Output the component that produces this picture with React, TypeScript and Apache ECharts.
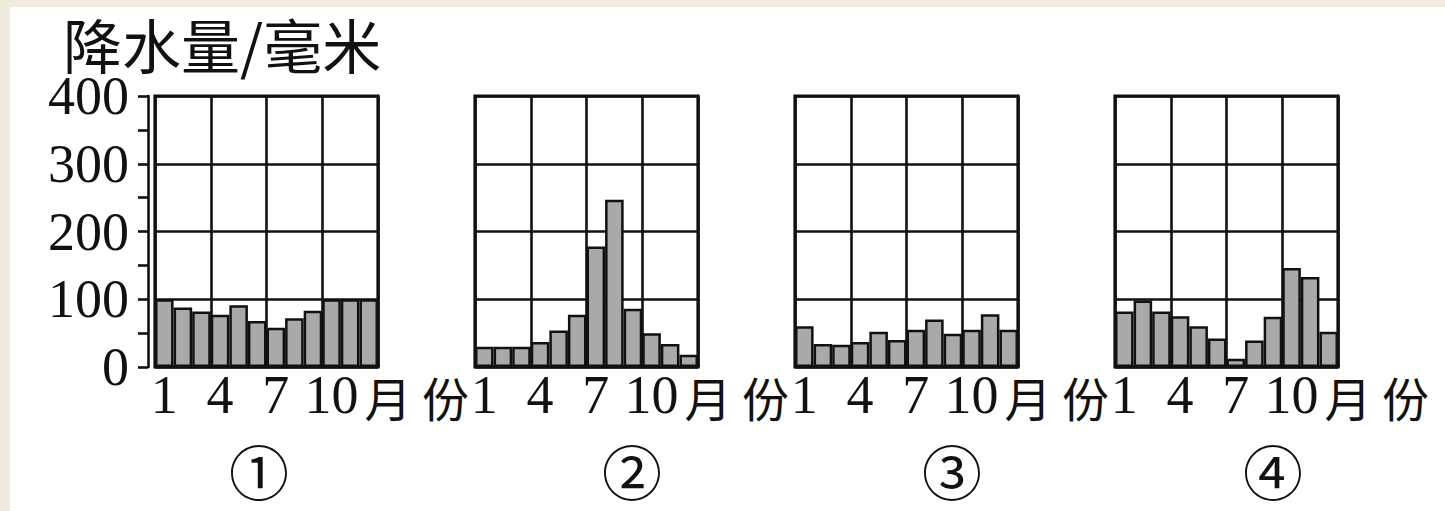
import React, { useEffect, useRef } from "react";
import * as echarts from "echarts";

// ---- data ----
const MONTHS = ["1", "2", "3", "4", "5", "6", "7", "8", "9", "10", "11", "12"];
const PANEL_LABELS = ["①", "②", "③", "④"];
const RAIN_1 = [100, 88, 82, 77, 91, 68, 58, 72, 83, 100, 100, 100];
const RAIN_2 = [30, 30, 30, 37, 54, 77, 178, 247, 86, 50, 34, 18];
const RAIN_3 = [60, 34, 33, 37, 52, 40, 55, 70, 49, 55, 78, 55];
const RAIN_4 = [82, 98, 82, 75, 60, 42, 12, 39, 74, 146, 133, 52];
const Y_MIN = 0;
const Y_MAX = 400;
const Y_STEP = 100;
const TITLE = "降水量/毫米";
const X_NAME = "月 份";

// ---- layout ----
const W = 1445;
const H = 511;
const PANEL_LEFT = [155, 475, 795, 1115];
const PANEL_W = 223;
const PANEL_TOP = 96;
const PANEL_H = 271;
const CIRCLE_X = [259, 632, 952, 1273];
const CIRCLE_Y = 469;

const INK = "#111111";
const BAR_FILL = "#a9a9a9";
const SERIF = "'Liberation Serif', 'DejaVu Serif', serif";
const CJK = "'Noto Sans CJK SC', sans-serif";

export default function App() {
  const ref = useRef<HTMLDivElement>(null);

  useEffect(() => {
    if (!ref.current) return;
    const chart = echarts.init(ref.current, null, { renderer: "svg", width: W, height: H });
    const rains = [RAIN_1, RAIN_2, RAIN_3, RAIN_4];
    const line = { color: INK, width: 2.6 };

    const grid = PANEL_LEFT.map((l) => ({
      left: l,
      top: PANEL_TOP,
      width: PANEL_W,
      height: PANEL_H,
      show: true,
      borderColor: INK,
      borderWidth: 3.2,
      backgroundColor: "transparent",
      containLabel: false,
    }));

    const xAxis = PANEL_LEFT.map((_, i) => ({
      type: "category",
      gridIndex: i,
      data: MONTHS,
      boundaryGap: true,
      axisLine: { show: false },
      axisTick: { show: false },
      axisLabel: {
        interval: 2,
        fontFamily: SERIF,
        fontSize: 54,
        lineHeight: 44,
        color: INK,
        margin: 6,
      },
      splitLine: { show: true, interval: 2, lineStyle: line },
      name: X_NAME,
      nameLocation: "end",
      nameGap: -29,
      nameTextStyle: {
        fontFamily: CJK,
        fontSize: 47,
        color: INK,
        verticalAlign: "top",
        padding: [6, 0, 0, 0],
      },
    }));

    const yAxis = PANEL_LEFT.map((_, i) => {
      const first = i === 0;
      return {
        type: "value",
        gridIndex: i,
        min: Y_MIN,
        max: Y_MAX,
        interval: Y_STEP,
        offset: first ? 7 : 0,
        splitLine: { show: true, lineStyle: line },
        axisLine: { show: first, lineStyle: line },
        axisTick: { show: first, length: 10, lineStyle: line },
        minorTick: { show: first, splitNumber: 2, length: 10, lineStyle: line },
        minorSplitLine: { show: false },
        axisLabel: {
          show: first,
          fontFamily: SERIF,
          fontSize: 54,
          lineHeight: 40,
          color: INK,
          margin: 19,
        },
      };
    });

    const series = rains.map((d, i) => ({
      type: "bar",
      xAxisIndex: i,
      yAxisIndex: i,
      data: d,
      barCategoryGap: "0%",
      silent: true,
      itemStyle: { color: BAR_FILL, borderColor: INK, borderWidth: 2.5 },
    }));

    const graphic: any[] = [
      { type: "rect", shape: { x: 0, y: 0, width: W, height: 7 }, style: { fill: "#efebdf" }, silent: true },
      { type: "rect", shape: { x: 0, y: 0, width: 10, height: H }, style: { fill: "#efebdf" }, silent: true },
      {
        type: "text",
        x: 63,
        y: 43,
        style: {
          text: TITLE,
          fontFamily: CJK,
          fontSize: 59,
          lineHeight: 59,
          fill: INK,
          align: "left",
          verticalAlign: "middle",
        },
      },
      ...PANEL_LABELS.map((t, i) => ({
        type: "text",
        x: CIRCLE_X[i],
        y: CIRCLE_Y,
        style: {
          text: t,
          fontFamily: CJK,
          fontSize: 60,
          lineHeight: 66,
          fill: INK,
          align: "center",
          verticalAlign: "middle",
        },
      })),
    ];

    chart.setOption({
      animation: false,
      backgroundColor: "#ffffff",
      grid,
      xAxis,
      yAxis,
      series,
      graphic,
    });

    return () => chart.dispose();
  }, []);

  return (
    <div
      ref={ref}
      style={{ position: "absolute", left: 0, top: 0, width: W, height: H }}
    />
  );
}
